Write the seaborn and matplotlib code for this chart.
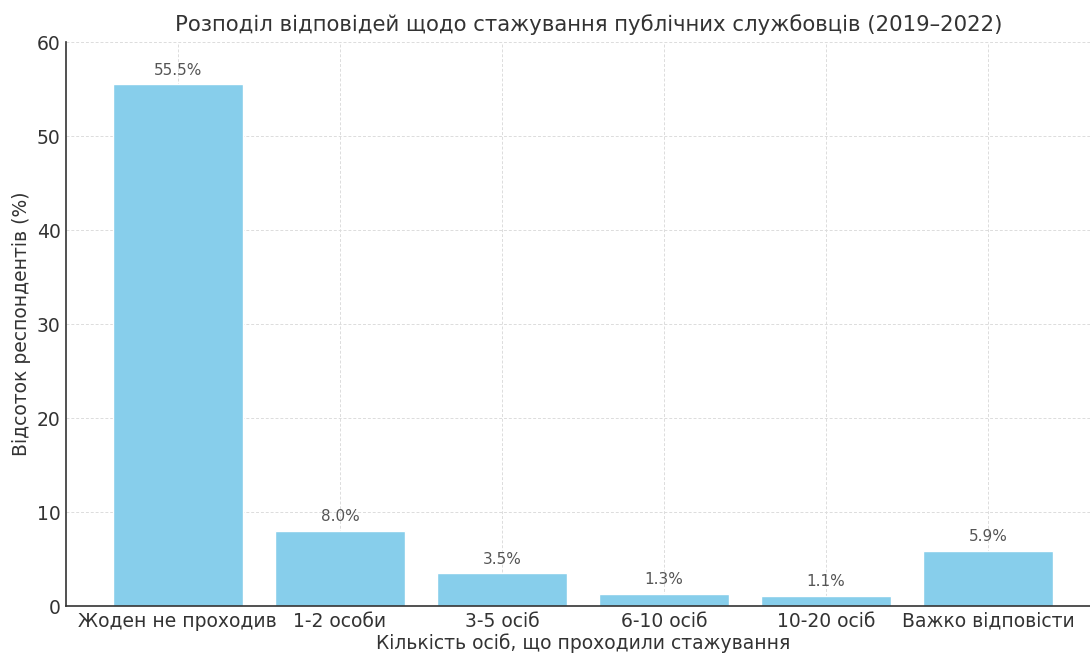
import matplotlib
matplotlib.use("Agg")
import matplotlib.pyplot as plt
import seaborn as sns
import pandas as pd

categories = ["Жоден не проходив", "1-2 особи", "3-5 осіб", "6-10 осіб", "10-20 осіб", "Важко відповісти"]
values = [55.5, 8.0, 3.5, 1.3, 1.1, 5.9]
yticks = [0, 10, 20, 30, 40, 50, 60]

sns.set_theme(style="white")
plt.rcParams['font.family'] = ['DejaVu Sans']
plt.rcParams['text.color'] = '#333333'
plt.rcParams['axes.labelcolor'] = '#333333'
plt.rcParams['xtick.color'] = '#333333'
plt.rcParams['ytick.color'] = '#333333'

df = pd.DataFrame({"cat": categories, "val": values})

fig = plt.figure(figsize=(10.9, 6.55), dpi=100)
ax = fig.add_axes([66/1090, 1 - 606/655, (1100-66)/1090, (606-42)/655])

sns.barplot(data=df, x="cat", y="val", color="#87CEEB", saturation=1, width=0.8, ax=ax, zorder=2)

for i, v in enumerate(values):
    ax.text(i, v + 0.7, f"{v:.1f}%", ha="center", va="bottom", fontsize=11, color="#555555")

ax.set_ylim(0, 60)
ax.set_xlim(-0.69, 5.69)
ax.set_yticks(yticks)
ax.grid(True, linestyle=(0, (3, 2)), color="#dcdcdc", linewidth=0.7, zorder=0)
ax.set_axisbelow(True)
for s in ["top", "right"]:
    ax.spines[s].set_visible(False)
for s in ["left", "bottom"]:
    ax.spines[s].set_color("#333333")
    ax.spines[s].set_linewidth(1.2)
ax.tick_params(axis="both", direction="in", length=5, width=1, labelsize=13.5, pad=4)
ax.set_xlabel("Кількість осіб, що проходили стажування", fontsize=13.5, labelpad=2)
ax.set_ylabel("Відсоток респондентів (%)", fontsize=13.5, labelpad=4)
ax.set_title("Розподіл відповідей щодо стажування публічних службовців (2019–2022)", fontsize=15.3, pad=8, x=(589-66)/1034)

fig.savefig("out.png", dpi=100)
